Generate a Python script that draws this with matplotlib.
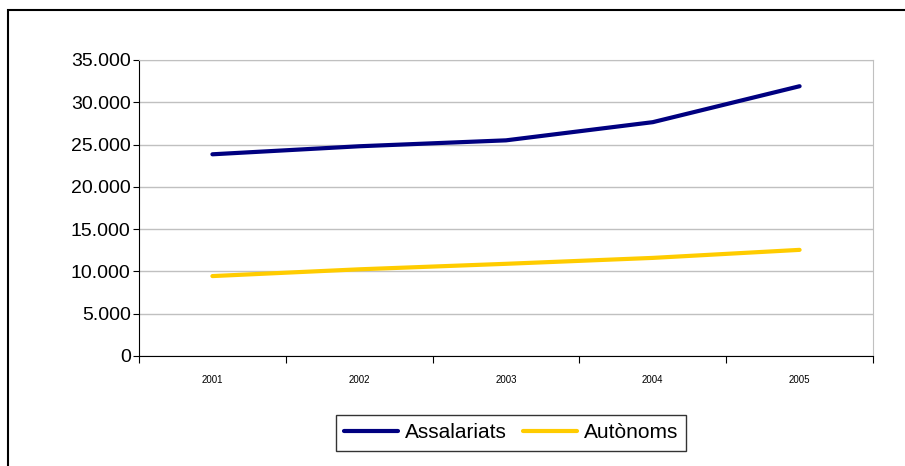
import matplotlib.pyplot as plt
from matplotlib.patches import Rectangle
from matplotlib.ticker import FuncFormatter, FixedLocator

plt.rcParams['font.family'] = ['Liberation Sans', 'DejaVu Sans']

# data
years = ["2001", "2002", "2003", "2004", "2005"]
assalariats = [23850, 24800, 25500, 27650, 31900]
autonoms = [9450, 10250, 10900, 11600, 12550]

fig = plt.figure(figsize=(9.05, 4.66), dpi=100)

# outer frame of the chart (right and bottom edges fall outside the picture)
fig.patches.append(Rectangle((8 / 905, -0.1), 1.2, 1.1 - 10 / 466,
                             transform=fig.transFigure, fill=False,
                             edgecolor="black", linewidth=1.5))

ax = fig.add_axes([139 / 905, 1 - 356 / 466, (873 - 139) / 905, (356 - 60) / 466])

x = range(len(years))
ax.plot(x, assalariats, color="#000080", linewidth=3, label="Assalariats",
        solid_capstyle="round")
ax.plot(x, autonoms, color="#FFCC00", linewidth=3, label="Autònoms",
        solid_capstyle="round")

ax.set_xlim(-0.5, 4.5)
ax.set_ylim(0, 35000)
ax.set_yticks(range(0, 35001, 5000))
ax.yaxis.set_major_formatter(FuncFormatter(lambda v, p: f"{int(v):,}".replace(",", ".")))
ax.grid(axis="y", color="#c0c0c0", linewidth=1)
ax.set_axisbelow(True)

# category ticks sit between the years, labels at the centres
ax.xaxis.set_major_locator(FixedLocator([i - 0.5 for i in range(6)]))
ax.xaxis.set_minor_locator(FixedLocator(list(x)))
ax.set_xticklabels([], minor=False)
ax.set_xticklabels(years, minor=True, fontsize=7)
ax.tick_params(axis="x", which="major", length=5, direction="out", color="black")
ax.tick_params(axis="x", which="minor", length=0, pad=14)
ax.tick_params(axis="y", length=4, direction="out", labelsize=14, pad=2)

for side in ["top", "right"]:
    ax.spines[side].set_color("#c0c0c0")
ax.spines["left"].set_color("black")
ax.spines["bottom"].set_color("black")

leg = fig.legend(loc="center", bbox_to_anchor=(511 / 905, 1 - 433 / 466), ncol=2,
                 fontsize=15, frameon=True, fancybox=False, edgecolor="black",
                 handlelength=2.6, handletextpad=0.3, columnspacing=0.8,
                 borderpad=0.4)
leg.get_frame().set_linewidth(1)

fig.savefig("out.png", dpi=100)
